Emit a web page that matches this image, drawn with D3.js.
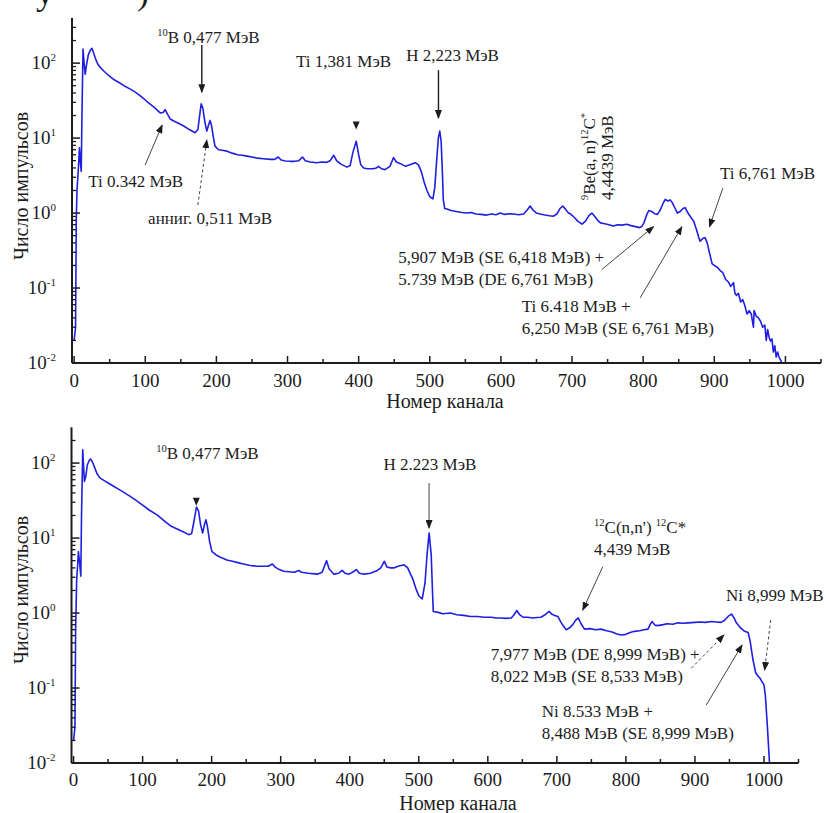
<!DOCTYPE html>
<html>
<head>
<meta charset="utf-8">
<script src="https://cdn.jsdelivr.net/npm/d3@7"></script>
<style>
  body { margin: 0; background: #fff; }
  svg, svg text { font-family: "Liberation Serif", "DejaVu Serif", serif; }
</style>
</head>
<body>
<script>
// upper spectrum: [channel, counts]
var spectrumA = [
  [0,0.02],[2,0.03],[3,0.8],[4,2.0],[6,4],[7.5,7.4],[9,4.5],[10,3.6],[11,20],[12.5,154],[14,100],
  [15.5,71],[17,90],[20,130],[23,150],[25,158],[27,140],[30,115],[33,98],[37,87],[42,78],[48,69],
  [55,61],[62,56],[70,50],[79,45],[86,41],[94,36],[102,31],[110,27],[116,24],[121,21.7],[125,22],
  [128,24],[131,21],[135,18],[142,16.5],[148,15.5],[154,14.5],[162,13],[170,11.8],[174,13],[177,22],
  [178.6,28.6],[181,25],[184,16],[186.6,12.4],[189,15],[191,17.2],[193,15],[196,10],[198,7.8],
  [203,7.0],[208,6.9],[215,6.7],[222,6.3],[230,6.0],[236,5.9],[243,5.75],[250,5.6],[258,5.4],
  [266,5.3],[276,5.2],[282,5.2],[287,5.6],[291,5.1],[297,4.95],[304,4.9],[310,4.9],[316,5.0],
  [321,5.6],[325,5.0],[332,4.8],[341,4.7],[348,4.8],[355,4.75],[360,5.0],[365,5.9],[369,5.0],
  [375,4.5],[383.5,4.1],[388,4.3],[392,6.5],[396.6,9.1],[400,6],[403,4.4],[407,4.0],[412,3.9],
  [420,3.9],[425,4.0],[428,4.2],[432,3.9],[437,3.8],[444,4.2],[449,5.5],[453,4.8],[458,4.6],
  [466,4.2],[472,4.4],[479.6,4.7],[484,4.4],[488,3.6],[492,2.6],[496,2.0],[500,1.65],[504.5,1.55],
  [507,2.2],[510,5.5],[512,10],[514,12.4],[516,9],[518,3],[519,1.5],[521,1.15],[524,1.13],
  [530,1.08],[537,1.05],[545,1.02],[552,1.0],[558,1.02],[565,0.97],[572,0.96],[580,0.94],[587,0.97],
  [593,0.95],[599,1.0],[605,0.96],[612,0.98],[618,0.97],[625,0.95],[632,0.97],[637,1.1],[641,1.24],
  [645,1.1],[650,1.0],[655,0.97],[662,0.94],[668,0.92],[674,0.91],[679,0.98],[683,1.15],[687,1.24],
  [691,1.12],[695,1.0],[698,0.97],[703,0.88],[708,0.78],[714,0.71],[719,0.78],[724,0.93],[728,1.0],
  [732,0.9],[736,0.8],[740,0.74],[746,0.72],[752,0.7],[758,0.67],[764,0.7],[770,0.69],[777,0.71],
  [783,0.68],[789,0.66],[795,0.64],[798,0.66],[801,0.74],[805,0.95],[808,1.08],[812,1.05],[816,0.98],
  [820,0.96],[824,1.1],[828,1.35],[831,1.52],[835,1.45],[838,1.5],[841,1.37],[845,1.15],[848,1.0],
  [852,1.05],[856,1.15],[859,1.18],[863,1.0],[867,0.88],[871,0.78],[875,0.6],[878,0.48],[880,0.42],
  [884,0.46],[887,0.47],[890,0.4],[893,0.3],[897,0.21],[900,0.2],[904,0.19],[908.6,0.17],[912,0.16],
  [916,0.13],[920,0.12],[923,0.105],[927,0.118],[929,0.085],[931,0.08],[934,0.085],[937,0.065],
  [940,0.07],[943,0.058],[946,0.045],[949,0.05],[952,0.045],[955,0.03],[956,0.05],[959,0.042],
  [962,0.04],[965,0.036],[968,0.03],[971,0.032],[973,0.02],[975,0.028],[977,0.022],[979,0.0196],
  [981,0.021],[983,0.014],[985,0.017],[987,0.012],[989,0.014],[991,0.012],[993,0.011],[995,0.01]
];

// lower spectrum: [channel, counts]
var spectrumB = [
  [0,0.02],[2,0.03],[3,0.6],[4.5,2.8],[6,4.5],[7,6.6],[8.5,5],[10.5,3.1],[11.5,20],[13.3,150],
  [14.5,90],[15.7,57],[17.5,65],[20,95],[23,110],[25,113],[28,100],[31,85],[34,72],[38.5,63],
  [45,58],[52,53],[58,49],[65,45],[74,40],[82,36],[90,32],[101,27],[110,23.5],[121,20.4],[130,17.4],
  [140,14.6],[150,13.2],[158,12.2],[166.6,11.1],[171,11.5],[174,16],[178,25.9],[181,23],[184,15],
  [187,11.7],[189.5,15],[191.8,17.5],[194,14],[197,9],[200.5,6.6],[206,6.0],[212,5.6],[222,5.1],
  [230,4.9],[238,4.7],[246,4.5],[256,4.3],[266,4.2],[282,4.2],[288,4.5],[292,4.1],[298,3.8],
  [304.5,3.6],[312,3.55],[320,3.5],[326,3.7],[330,3.5],[340,3.4],[353,3.3],[360,3.5],[366.5,5.0],
  [370,3.9],[377,3.3],[384,3.4],[389,3.7],[393,3.4],[399,3.3],[404,3.5],[409.6,3.8],[414,3.4],
  [420.6,3.3],[430,3.4],[440,3.7],[445,4.0],[450,4.9],[454,4.1],[459,4.0],[464,4.0],[470,4.2],
  [478.7,4.4],[484,4.0],[488,3.3],[491,2.9],[496,2.1],[500,1.7],[505,1.54],[509,2.5],[512,6],
  [515,11.7],[518,6],[520,1.8],[521,1.05],[528,1.02],[535,0.98],[546,1.0],[555,0.95],[565,0.93],
  [575,0.9],[585,0.9],[595,0.88],[605,0.88],[612,0.86],[619,0.86],[627,0.85],[634,0.86],[638,0.95],
  [642,1.08],[646,0.95],[651,0.88],[658,0.88],[665,0.86],[671,0.87],[677,0.88],[683,0.95],[689,1.05],
  [693,0.96],[697,0.93],[701.5,0.9],[705,0.78],[709,0.68],[713.6,0.6],[718,0.63],[723,0.7],[727,0.8],
  [731,0.86],[735,0.72],[740,0.61],[748,0.62],[756,0.6],[764,0.61],[772,0.58],[780,0.56],[786,0.53],
  [793,0.51],[800,0.52],[806,0.55],[812.6,0.57],[820,0.58],[826,0.6],[832,0.61],[835,0.7],[838,0.77],
  [842,0.69],[846,0.68],[854,0.7],[860,0.72],[868,0.71],[875.5,0.74],[882,0.73],[890,0.74],[900,0.75],
  [908,0.76],[915,0.75],[924,0.77],[931,0.76],[938,0.75],[943,0.8],[948,0.9],[953,0.97],[957,0.85],
  [960,0.74],[965,0.65],[969,0.6],[972,0.57],[977,0.55],[980,0.42],[984,0.24],[988,0.16],[991,0.145],
  [994,0.136],[1000,0.11],[1002,0.08],[1005,0.03],[1008,0.01]
];

var xTicks = d3.range(0, 1001, 100);
var xMinor = d3.range(50, 1051, 100);
var yDecades = [-2, -1, 0, 1, 2];

// annotations, positions in [channel, counts]
var notesA = [
  { at: [116.7, 185], lines: ['^{10}B 0,477 МэВ'], arrow: [[179.5, 174], [179.5, 41]], bold: true },
  { at: [312, 88.5], lines: ['Ti 1,381 МэВ'], tri: [396.5, 13] },
  { at: [466.8, 106], lines: ['H 2,223 МэВ'], arrow: [[512.2, 80.6], [512.2, 18.5]], bold: true },
  { at: [19.7, 2.22], lines: ['Ti 0.342 МэВ'], arrow: [[99.8, 4.37], [123.7, 14.9]] },
  { at: [104, 0.713], lines: ['анниг. 0,511 МэВ'], arrow: [[174, 1.28], [186.6, 9.4]], dash: true },
  { at: [732.5, 1.49], lines: ['^{9}Be(a, n)^{12}C^{*}'], rotate: true },
  { at: [757.8, 1.49], lines: ['4,4439 МэВ'], rotate: true },
  { at: [908, 2.84], lines: ['Ti 6,761 МэВ'], arrow: [[912, 2.15], [893.2, 0.657]] },
  { at: [455.5, 0.215], lines: ['5,907 МэВ (SE 6,418 МэВ) +', '5.739 МэВ (DE 6,761 МэВ)'],
    arrow: [[742, 0.177], [814.5, 0.657]] },
  { at: [629.4, 0.048], lines: ['Ti 6.418 МэВ +', '6,250 МэВ (SE 6,761 МэВ)'],
    arrow: [[795.7, 0.0738], [854.4, 0.657]] }
];

var notesB = [
  { at: [119.7, 113], lines: ['^{10}B 0,477 МэВ'], tri: [177.8, 27] },
  { at: [449, 80.6], lines: ['H 2.223 МэВ'], arrow: [[514.9, 54.1], [514.9, 13.6]] },
  { at: [753.9, 11.66], lines: ['^{12}C(n,n\') ^{12}C*', '4,439 МэВ'], arrow: [[766.5, 4.15], [737.5, 1.096]] },
  { at: [945, 1.445], lines: ['Ni 8,999 МэВ'], arrow: [[1009.7, 0.806], [1001, 0.174]], dash: true },
  { at: [604.4, 0.236], lines: ['7,977 МэВ (DE 8,999 МэВ) +', '8,022 МэВ (SE 8,533 МэВ)'],
    arrow: [[894.6, 0.183], [942, 0.509]], dash: true },
  { at: [678, 0.0411], lines: ['Ni 8.533 МэВ +', '8,488 МэВ (SE 8,999 МэВ)'],
    arrow: [[916.4, 0.0592], [968.2, 0.374]] }
];

var panels = [
  { data: spectrumA, notes: notesA, xr: [72, 821], yr: [363, 18], yMax: 400,
    tickY: 387, titleX: 445, titleY: 408, yTitleY: 186 },
  { data: spectrumB, notes: notesB, xr: [71.5, 798.5], yr: [763, 427.3], yMax: 300,
    tickY: 786, titleX: 458, titleY: 810, yTitleY: 590 }
];

var W = 826, H = 813;
var ink = '#1c1c1c';
var serif = '"Liberation Serif", "DejaVu Serif", serif';

var svg = d3.select('body').append('svg')
    .attr('width', W)
    .attr('height', H)
    .attr('font-family', serif);

svg.append('defs').append('marker')
    .attr('id', 'head')
    .attr('markerUnits', 'userSpaceOnUse')
    .attr('markerWidth', 9).attr('markerHeight', 7)
    .attr('refX', 8).attr('refY', 3.5)
    .attr('orient', 'auto')
  .append('path')
    .attr('d', 'M0,0 L9,3.5 L0,7 Z')
    .attr('fill', ink);

// leftover of the caption above the figure
svg.append('text').attr('x', 36).attr('y', 4).attr('font-size', 36).attr('fill', ink).text('у');
svg.append('text').attr('x', 137).attr('y', 4).attr('font-size', 36).attr('fill', ink).text(')');

// text with ^{..} superscripts
function rich(sel, str, size) {
    var parts = str.split(/(\^\{[^}]*\})/), up = false;
    parts.forEach(function(p) {
        if (!p) return;
        var m = p.match(/^\^\{(.*)\}$/);
        if (m) {
            sel.append('tspan').attr('dy', -size * 0.42).attr('font-size', size * 0.62).text(m[1]);
            up = true;
        } else {
            sel.append('tspan').attr('dy', up ? size * 0.42 : 0).text(p);
            up = false;
        }
    });
}

panels.forEach(function(p) {
    var x = d3.scaleLinear().domain([-3, 1050]).range(p.xr);
    var y = d3.scaleLog().domain([0.01, p.yMax]).range(p.yr);
    var g = svg.append('g');

    // spectrum
    g.append('path')
        .datum(p.data)
        .attr('fill', 'none')
        .attr('stroke', '#1f1fe0')
        .attr('stroke-width', 1.6)
        .attr('stroke-linejoin', 'round')
        .attr('d', d3.line().x(function(d) { return x(d[0]); }).y(function(d) { return y(d[1]); }));

    // x axis, ticks pointing inward
    var xa = g.append('g').attr('transform', 'translate(0,' + p.yr[0] + ')');
    xa.append('line').attr('x1', p.xr[0]).attr('x2', p.xr[1]).attr('stroke', ink).attr('stroke-width', 2);
    xa.selectAll('.maj').data(xTicks).enter().append('line')
        .attr('x1', x).attr('x2', x).attr('y1', 0).attr('y2', -7)
        .attr('stroke', ink).attr('stroke-width', 1.5);
    xa.selectAll('.min').data(xMinor).enter().append('line')
        .attr('x1', x).attr('x2', x).attr('y1', 0).attr('y2', -4)
        .attr('stroke', ink).attr('stroke-width', 1.5);
    g.selectAll('.xl').data(xTicks).enter().append('text')
        .attr('x', x).attr('y', p.tickY)
        .attr('text-anchor', 'middle').attr('font-size', 19).attr('fill', ink)
        .text(function(d) { return d; });

    // y axis, log ticks
    var ya = g.append('g').attr('transform', 'translate(' + p.xr[0] + ',0)');
    ya.append('line').attr('y1', p.yr[0]).attr('y2', p.yr[1]).attr('stroke', ink).attr('stroke-width', 2);
    var minor = [];
    yDecades.forEach(function(e) {
        d3.range(2, 10).forEach(function(k) {
            var v = k * Math.pow(10, e);
            if (v < p.yMax) minor.push(v);
        });
    });
    ya.selectAll('.ymin').data(minor).enter().append('line')
        .attr('x1', 0).attr('x2', 4).attr('y1', y).attr('y2', y)
        .attr('stroke', ink).attr('stroke-width', 1.3);
    ya.selectAll('.ymaj').data(yDecades).enter().append('line')
        .attr('x1', 0).attr('x2', 8)
        .attr('y1', function(e) { return y(Math.pow(10, e)); })
        .attr('y2', function(e) { return y(Math.pow(10, e)); })
        .attr('stroke', ink).attr('stroke-width', 1.5);
    yDecades.forEach(function(e) {
        var t = g.append('text')
            .attr('x', p.xr[0] - 16).attr('y', y(Math.pow(10, e)) + 6)
            .attr('text-anchor', 'end').attr('font-size', 19).attr('fill', ink);
        t.append('tspan').text('10');
        t.append('tspan').attr('dy', -8).attr('font-size', 11).text(e);
    });

    // axis titles
    g.append('text')
        .attr('x', p.titleX).attr('y', p.titleY)
        .attr('text-anchor', 'middle').attr('font-size', 20).attr('fill', ink)
        .text('Номер канала');
    g.append('text')
        .attr('transform', 'translate(28,' + p.yTitleY + ') rotate(-90)')
        .attr('text-anchor', 'middle').attr('font-size', 20).attr('fill', ink)
        .text('Число импульсов');

    // annotations
    p.notes.forEach(function(n) {
        var ax = x(n.at[0]), ay = y(n.at[1]);
        if (n.rotate) {
            var rt = g.append('text')
                .attr('transform', 'translate(' + ax + ',' + ay + ') rotate(-90)')
                .attr('font-size', 17).attr('fill', ink);
            rich(rt, n.lines[0], 17);
        } else {
            n.lines.forEach(function(line, i) {
                var t = g.append('text')
                    .attr('x', ax).attr('y', ay + i * 22)
                    .attr('font-size', 17).attr('fill', ink);
                rich(t, line, 17);
            });
        }
        if (n.arrow) {
            g.append('line')
                .attr('x1', x(n.arrow[0][0])).attr('y1', y(n.arrow[0][1]))
                .attr('x2', x(n.arrow[1][0])).attr('y2', y(n.arrow[1][1]))
                .attr('stroke', n.bold ? ink : '#444')
                .attr('stroke-width', n.bold ? 1.4 : 1)
                .attr('stroke-dasharray', n.dash ? '3,2.5' : null)
                .attr('marker-end', 'url(#head)');
        }
        if (n.tri) {
            var tx = x(n.tri[0]), ty = y(n.tri[1]);
            g.append('path')
                .attr('d', 'M' + (tx - 3.5) + ',' + (ty - 8) + 'L' + (tx + 3.5) + ',' + (ty - 8) + 'L' + tx + ',' + ty + 'Z')
                .attr('fill', ink);
        }
    });
});
</script>
</body>
</html>
